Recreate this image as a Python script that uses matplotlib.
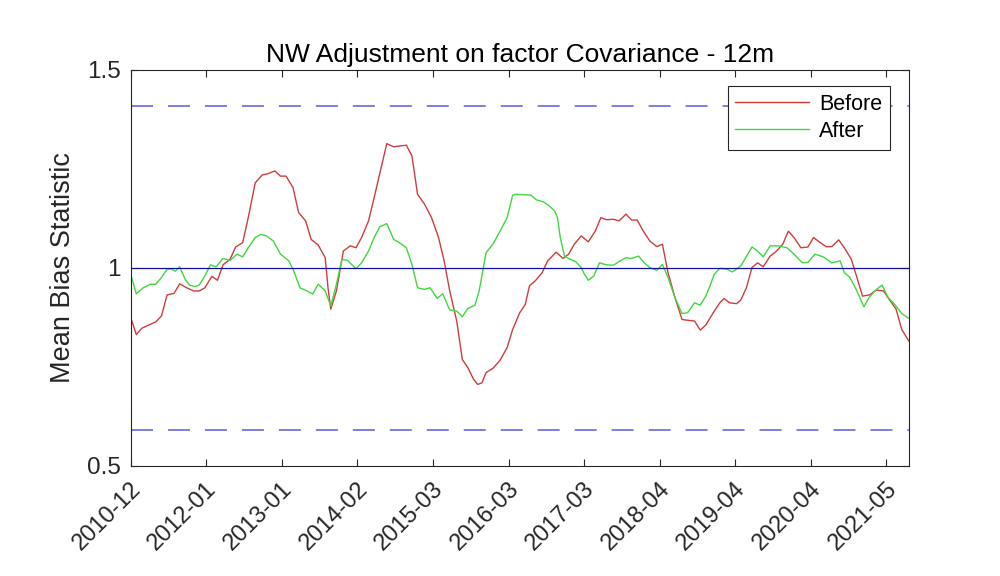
import matplotlib
matplotlib.use("Agg")
from matplotlib import pyplot as plt
from matplotlib.transforms import ScaledTranslation

plt.rcParams['font.family'] = ['Liberation Sans', 'DejaVu Sans']

# weekly sample index, x tick every 54 samples
tick_weeks = [0, 54, 108, 162, 216, 270, 324, 378, 432, 486, 540]
tick_labels = ['2010-12', '2012-01', '2013-01', '2014-02', '2015-03', '2016-03',
               '2017-03', '2018-04', '2019-04', '2020-04', '2021-05']
x_end = 556

before_weeks = [0, 4, 8, 13, 18, 22, 26, 31, 35, 40, 45, 49, 53, 58, 62, 66, 71, 75, 80, 84,
                89, 94, 98, 103, 107, 111, 116, 120, 125, 129, 134, 139, 141, 143, 147, 152,
                157, 161, 165, 170, 174, 179, 183, 188, 192, 197, 201, 205, 210, 215, 220,
                224, 228, 233, 237, 241, 245, 248, 251, 254, 259, 264, 269, 273, 278, 282,
                285, 289, 294, 298, 304, 309, 313, 317, 322, 327, 332, 336, 340, 345, 349,
                354, 358, 362, 366, 371, 376, 380, 384, 389, 394, 398, 403, 407, 411, 417,
                421, 424, 428, 433, 436, 440, 444, 448, 452, 457, 461, 466, 470, 474, 479,
                484, 488, 492, 497, 501, 506, 510, 515, 519, 523, 528, 533, 538, 542, 547,
                551, 556]
before_vals = [0.875, 0.832, 0.848, 0.856, 0.864, 0.879, 0.932, 0.936, 0.960, 0.950, 0.942,
               0.942, 0.950, 0.979, 0.969, 1.008, 1.022, 1.053, 1.064, 1.127, 1.215, 1.235,
               1.238, 1.245, 1.232, 1.232, 1.203, 1.140, 1.119, 1.072, 1.058, 1.026, 0.950,
               0.896, 0.942, 1.043, 1.056, 1.051, 1.077, 1.119, 1.178, 1.253, 1.314, 1.306,
               1.308, 1.310, 1.283, 1.186, 1.161, 1.127, 1.077, 1.018, 0.942, 0.866, 0.769,
               0.748, 0.719, 0.706, 0.710, 0.736, 0.747, 0.767, 0.799, 0.845, 0.887, 0.908,
               0.955, 0.967, 0.988, 1.018, 1.040, 1.024, 1.035, 1.060, 1.081, 1.066, 1.093,
               1.127, 1.122, 1.123, 1.119, 1.136, 1.121, 1.121, 1.095, 1.068, 1.054, 1.060,
               0.988, 0.925, 0.870, 0.868, 0.866, 0.843, 0.856, 0.891, 0.912, 0.923, 0.912,
               0.910, 0.919, 0.950, 1.001, 1.013, 1.003, 1.030, 1.041, 1.060, 1.093, 1.077,
               1.051, 1.053, 1.077, 1.066, 1.054, 1.054, 1.071, 1.051, 1.022, 0.976, 0.929,
               0.932, 0.944, 0.942, 0.921, 0.896, 0.845, 0.816]

after_weeks = [0, 4, 9, 14, 18, 22, 26, 29, 32, 35, 39, 42, 46, 49, 53, 57, 61, 66, 71, 76,
               80, 84, 89, 93, 97, 102, 107, 113, 116, 121, 126, 130, 134, 139, 143, 147, 151,
               155, 161, 165, 170, 174, 178, 183, 188, 192, 197, 201, 205, 210, 214, 219,
               223, 228, 233, 237, 241, 246, 249, 254, 259, 264, 269, 273, 275, 286, 290,
               295, 299, 303, 305, 307, 310, 314, 318, 322, 324, 327, 331, 335, 340, 345,
               349, 354, 358, 363, 367, 371, 376, 380, 384, 389, 394, 398, 403, 407, 411,
               414, 417, 421, 426, 430, 436, 444, 448, 452, 457, 463, 469, 474, 480, 484,
               489, 495, 501, 507, 510, 514, 519, 524, 528, 533, 537, 541, 546, 551, 556]
after_vals = [0.984, 0.935, 0.950, 0.959, 0.959, 0.976, 0.997, 0.997, 0.992, 1.003, 0.971,
              0.957, 0.953, 0.957, 0.980, 1.008, 1.003, 1.024, 1.019, 1.035, 1.028, 1.051,
              1.077, 1.085, 1.081, 1.068, 1.035, 1.018, 0.997, 0.950, 0.942, 0.934, 0.959,
              0.942, 0.904, 0.959, 1.022, 1.019, 0.998, 1.013, 1.043, 1.077, 1.104, 1.112,
              1.072, 1.064, 1.051, 1.009, 0.950, 0.946, 0.950, 0.923, 0.935, 0.894, 0.891,
              0.877, 0.898, 0.906, 0.942, 1.039, 1.061, 1.093, 1.127, 1.184, 1.186, 1.184,
              1.172, 1.167, 1.157, 1.144, 1.127, 1.077, 1.030, 1.022, 1.016, 1.001, 0.986,
              0.969, 0.980, 1.013, 1.008, 1.007, 1.016, 1.026, 1.024, 1.030, 1.013, 1.001,
              0.994, 1.009, 0.976, 0.925, 0.885, 0.887, 0.912, 0.906, 0.929, 0.955, 0.984,
              0.999, 0.997, 0.990, 1.005, 1.053, 1.043, 1.028, 1.056, 1.056, 1.051, 1.035,
              1.013, 1.014, 1.035, 1.028, 1.013, 1.018, 0.988, 0.976, 0.942, 0.902, 0.927,
              0.946, 0.957, 0.927, 0.908, 0.885, 0.873]

# confidence band 1 +/- sqrt(2/12)
band = [0.592, 1.408]

fig = plt.figure(figsize=(10, 5.76), dpi=100)
ax = fig.add_axes([0.1307, 0.191, 0.778, 0.6875])

ax.plot(before_weeks, before_vals, color='#d03c3c', lw=1.0, label='Before')
ax.plot(after_weeks, after_vals, color='#3fd83f', lw=1.0, label='After')
ax.axhline(1.0, color='#10109a', lw=0.9)
for b in band:
    ax.axhline(b, color='#5b5bd9', lw=1.1, linestyle=(0, (14.4, 9.8)))

ax.set_xlim(0, x_end)
ax.set_ylim(0.5, 1.5)
ax.set_xticks(tick_weeks)
ax.set_xticklabels(tick_labels, rotation=45, ha='right', va='center',
                   rotation_mode='anchor', fontsize=17)
ax.set_yticks([0.5, 1, 1.5])
ax.set_yticklabels(['0.5', '1', '1.5'], fontsize=17.5)
ax.tick_params(direction='in', length=5, width=0.8, top=True, right=True,
               colors='#262626')
ax.tick_params(axis='x', pad=14)
ax.tick_params(axis='y', pad=7)
for s in ax.spines.values():
    s.set_color('#262626')
    s.set_linewidth(0.8)

ax.set_title('NW Adjustment on factor Covariance - 12m', fontsize=19, pad=6)
ax.set_ylabel('Mean Bias Statistic', fontsize=19.5, labelpad=8, color='#262626')

leg = ax.legend(loc='upper right', bbox_to_anchor=(0.890, 0.8507),
                bbox_transform=fig.transFigure, borderaxespad=0,
                fontsize=15.5, handlelength=3.4, fancybox=False, framealpha=1,
                edgecolor='#262626', borderpad=0.35, labelspacing=0.3,
                handletextpad=0.5)
leg.get_frame().set_linewidth(0.8)

# nudge the rotated date labels to the right, as in the original
fig.canvas.draw()
shift = ScaledTranslation(7 / 100, 0, fig.dpi_scale_trans)
for tick in ax.xaxis.get_major_ticks():
    tick.label1.set_transform(tick.label1.get_transform() + shift)

fig.savefig('out.png', dpi=100)
